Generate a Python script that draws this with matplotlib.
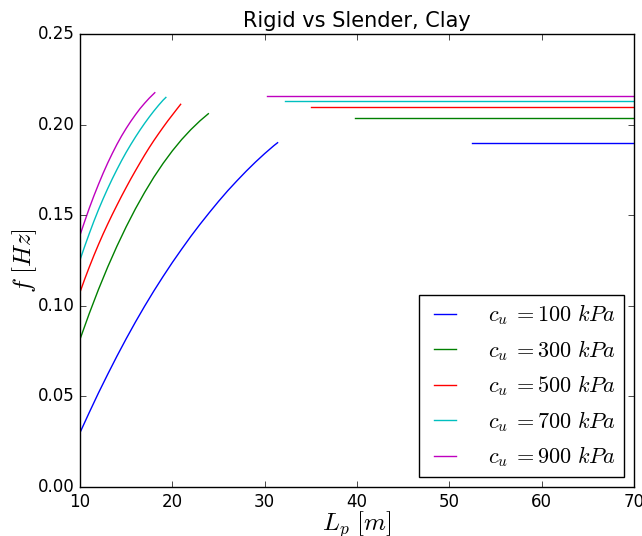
import matplotlib
matplotlib.use("Agg")
import matplotlib.pyplot as plt

plt.style.use('classic')

labels = [r'$c_u\:{=}100\ kPa$', r'$c_u\:{=}300\ kPa$', r'$c_u\:{=}500\ kPa$',
          r'$c_u\:{=}700\ kPa$', r'$c_u\:{=}900\ kPa$']
colors = ['b', 'g', 'r', 'c', 'm']

# rigid curves (L_p, f)
blue_x = [10, 11, 12, 13, 14, 15, 16, 17, 18, 19, 20, 21, 22, 23, 24, 25, 26, 27, 28, 29, 30, 31, 31.4]
blue_f = [0.0300, 0.0411, 0.0519, 0.0622, 0.0722, 0.0818, 0.0910, 0.0998, 0.1082, 0.1162,
          0.1239, 0.1312, 0.1383, 0.1450, 0.1514, 0.1576, 0.1635, 0.1690, 0.1743, 0.1793,
          0.1840, 0.1884, 0.1900]
green_x = [10, 11, 12, 13, 14, 15, 16, 17, 18, 19, 20, 21, 22, 23, 23.9]
green_f = [0.0815, 0.0957, 0.1090, 0.1214, 0.1329, 0.1436, 0.1535, 0.1626, 0.1710, 0.1786,
           0.1855, 0.1917, 0.1972, 0.2021, 0.2060]
red_x = [10, 10.5, 11, 11.5, 12, 12.5, 13, 13.5, 14, 14.5, 15, 15.5, 16, 16.5, 17, 17.5,
         18, 18.5, 19, 19.5, 20, 20.5, 20.9]
red_f = [0.1075, 0.1146, 0.1213, 0.1277, 0.1338, 0.1396, 0.1451, 0.1504, 0.1555, 0.1605,
         0.1653, 0.1700, 0.1745, 0.1789, 0.1832, 0.1873, 0.1912, 0.1949, 0.1985, 0.2020,
         0.2053, 0.2086, 0.2112]
cyan_x = [10, 10.5, 11, 11.5, 12, 12.5, 13, 13.5, 14, 14.5, 15, 15.5, 16, 16.5, 17, 17.5,
          18, 18.5, 19, 19.3]
cyan_f = [0.1253, 0.1327, 0.1398, 0.1466, 0.1530, 0.1590, 0.1647, 0.1701, 0.1752, 0.1801,
          0.1847, 0.1890, 0.1931, 0.1970, 0.2007, 0.2042, 0.2075, 0.2106, 0.2135, 0.2150]
magenta_x = [10, 10.5, 11, 11.5, 12, 12.5, 13, 13.5, 14, 14.5, 15, 15.5, 16, 16.5, 17, 17.5, 18.1]
magenta_f = [0.1390, 0.1465, 0.1538, 0.1606, 0.1670, 0.1731, 0.1788, 0.1841, 0.1891, 0.1937,
             0.1979, 0.2018, 0.2054, 0.2088, 0.2118, 0.2146, 0.2176]

rigid_x = [blue_x, green_x, red_x, cyan_x, magenta_x]
rigid_f = [blue_f, green_f, red_f, cyan_f, magenta_f]

# slender (constant) lines
slender_start = [52.5, 39.8, 35.0, 32.2, 30.2]
slender_end = [70, 70, 70, 70, 70]
slender_f = [0.1897, 0.2038, 0.2097, 0.2132, 0.2160]

fig = plt.figure(figsize=(6.42, 5.36), dpi=100, facecolor='white')
ax = fig.add_axes([80/642, 49/536, 554/642, 453/536])

for i in range(5):
    ax.plot(rigid_x[i], rigid_f[i], color=colors[i], lw=1.0, label=labels[i])
for i in range(5):
    ax.plot([slender_start[i], slender_end[i]], [slender_f[i], slender_f[i]],
            color=colors[i], lw=1.0)

ax.set_xlim(10, 70)
ax.set_ylim(0, 0.25)
ax.set_xticks([10, 20, 30, 40, 50, 60, 70])
ax.set_yticks([0.0, 0.05, 0.10, 0.15, 0.20, 0.25])
ax.set_yticklabels(['0.00', '0.05', '0.10', '0.15', '0.20', '0.25'])
ax.tick_params(labelsize=12)
ax.set_title('Rigid vs Slender, Clay', fontsize=15)
ax.set_xlabel(r'$L_p\ [m]$', fontsize=18, labelpad=-1)
ax.set_ylabel(r'$f\ [Hz]$', fontsize=18, labelpad=-1)
leg = ax.legend(loc='lower right', fontsize=16, handlelength=1.6,
                handletextpad=1.15, labelspacing=0.48, borderaxespad=0.45,
                borderpad=0.35)
leg.get_frame().set_edgecolor('black')

fig.savefig('out.png', dpi=100, facecolor='white')
